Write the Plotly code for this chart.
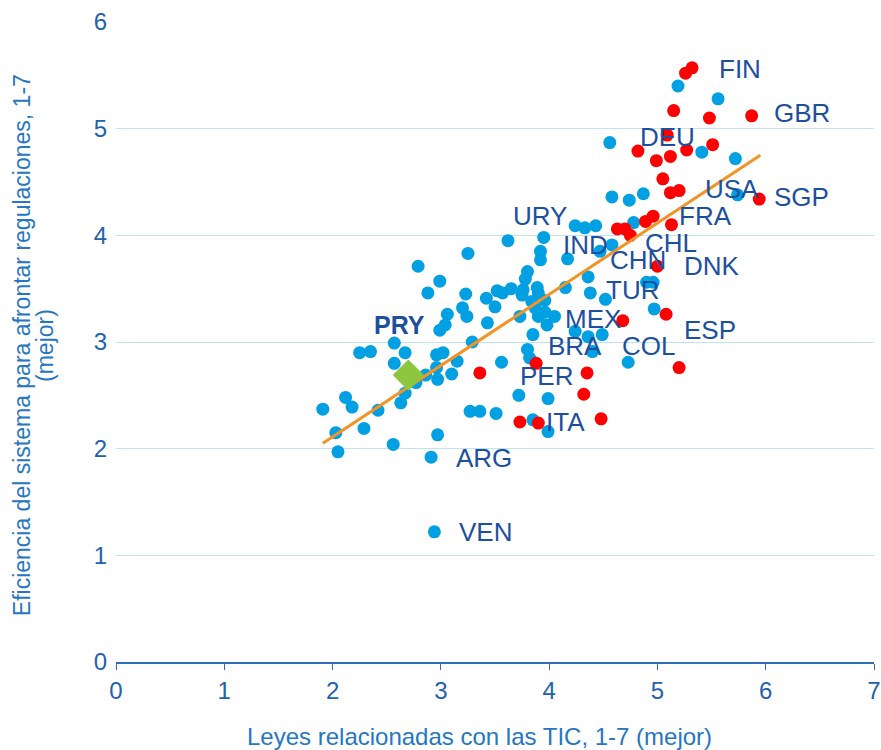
import plotly.graph_objects as go

# other economies (light blue)
blue_x = [2.94, 2.91, 2.05, 2.56, 2.97, 2.03, 2.29, 1.91, 2.18, 2.12,
          2.42, 2.63, 2.67, 2.77, 2.86, 2.97, 3.10, 2.96, 2.57, 3.15,
          2.96, 3.02, 2.67, 2.57, 2.25, 2.35, 3.29, 2.99, 3.04, 3.06,
          3.20, 3.24, 2.88, 2.99, 2.79, 3.25, 3.23, 3.42, 3.50, 3.52,
          3.57, 3.65, 3.76, 3.75, 3.89, 3.90, 3.80, 3.78, 3.92, 3.92,
          3.95, 3.62, 4.17, 4.15, 4.36, 4.38, 4.52, 3.84, 3.87, 3.96,
          3.96, 3.90, 3.98, 4.05, 3.73, 3.43, 3.85, 3.80, 3.82, 4.24,
          4.36, 4.49, 3.56, 4.40, 4.73, 3.72, 3.99, 3.27, 3.36, 3.51,
          3.85, 3.99, 4.24, 4.33, 4.43, 4.47, 4.58, 4.58, 4.74, 4.87,
          4.78, 4.56, 5.19, 5.56, 5.41, 5.72, 5.74, 4.90, 4.96, 4.97]
blue_y = [1.22, 1.92, 1.97, 2.04, 2.13, 2.15, 2.19, 2.37, 2.39, 2.48,
          2.36, 2.43, 2.52, 2.62, 2.69, 2.65, 2.70, 2.76, 2.80, 2.82,
          2.88, 2.90, 2.90, 2.99, 2.90, 2.91, 3.00, 3.11, 3.16, 3.26,
          3.32, 3.24, 3.46, 3.57, 3.71, 3.83, 3.45, 3.41, 3.33, 3.48,
          3.46, 3.50, 3.49, 3.44, 3.51, 3.46, 3.66, 3.59, 3.77, 3.85,
          3.98, 3.95, 3.78, 3.51, 3.61, 3.46, 3.40, 3.38, 3.32, 3.39,
          3.28, 3.24, 3.16, 3.24, 3.24, 3.18, 3.07, 2.93, 2.85, 3.10,
          3.05, 3.07, 2.81, 2.91, 2.81, 2.50, 2.47, 2.35, 2.35, 2.33,
          2.27, 2.16, 4.09, 4.07, 4.09, 3.85, 3.91, 4.36, 4.33, 4.39,
          4.12, 4.87, 5.40, 5.28, 4.78, 4.72, 4.38, 3.56, 3.56, 3.31]

# OECD economies (red)
red_x = [5.32, 5.26, 5.15, 5.48, 5.87, 5.09, 4.82, 5.27, 5.51, 4.99,
         5.12, 5.05, 5.12, 5.20, 5.94, 4.96, 4.89, 5.13, 4.63, 4.70,
         4.75, 5.00, 5.08, 4.68, 5.20, 4.35, 4.32, 4.48, 3.88, 3.36,
         3.73, 3.90]
red_y = [5.57, 5.52, 5.17, 5.10, 5.12, 4.94, 4.79, 4.80, 4.85, 4.70,
         4.74, 4.53, 4.40, 4.42, 4.34, 4.18, 4.13, 4.10, 4.06, 4.06,
         4.00, 3.71, 3.26, 3.20, 2.76, 2.71, 2.51, 2.28, 2.80, 2.71,
         2.25, 2.24]

# Paraguay
pry_x = [2.70]
pry_y = [2.69]

# linear trend
trend_x = [1.91, 5.95]
trend_y = [2.05, 4.75]

labels = ["FIN", "GBR", "DEU", "USA", "SGP", "FRA", "URY", "IND", "CHL", "CHN",
          "DNK", "TUR", "MEX", "ESP", "BRA", "COL", "PER", "ITA", "ARG", "VEN"]
label_x = [5.55, 6.06, 4.82, 5.42, 6.06, 5.18, 3.65, 4.11, 4.87, 4.54,
           5.23, 4.51, 4.13, 5.23, 3.97, 4.65, 3.71, 3.95, 3.12, 3.15]
label_y = [5.56, 5.15, 4.92, 4.43, 4.36, 4.18, 4.18, 3.91, 3.93, 3.77,
           3.71, 3.49, 3.22, 3.11, 2.96, 2.96, 2.68, 2.25, 1.91, 1.22]

TXT = "#1D4F9F"
TICK = "#2460AD"
TITLE = "#2676C2"
FONT = "Liberation Sans, Arial, sans-serif"

fig = go.Figure()

fig.add_trace(go.Scatter(
    x=blue_x, y=blue_y, mode="markers",
    marker=dict(color="#00A0E3", size=13),
    hoverinfo="skip", showlegend=False,
))
fig.add_trace(go.Scatter(
    x=red_x, y=red_y, mode="markers",
    marker=dict(color="#FF0000", size=13),
    hoverinfo="skip", showlegend=False,
))
fig.add_trace(go.Scatter(
    x=trend_x, y=trend_y, mode="lines",
    line=dict(color="#F39325", width=3),
    hoverinfo="skip", showlegend=False,
))
fig.add_trace(go.Scatter(
    x=pry_x, y=pry_y, mode="markers",
    marker=dict(color="#8DC63F", size=24, symbol="diamond"),
    hoverinfo="skip", showlegend=False,
))

for name, lx, ly in zip(labels, label_x, label_y):
    fig.add_annotation(
        x=lx, y=ly, text=name, showarrow=False,
        xanchor="left", yanchor="middle",
        font=dict(family=FONT, size=26, color=TXT),
    )
fig.add_annotation(
    x=2.36, y=3.16, text="<b>PRY</b>", showarrow=False,
    xanchor="left", yanchor="middle",
    font=dict(family=FONT, size=25, color=TXT),
)

# axis titles (placed as annotations so line spacing can match)
fig.add_annotation(
    xref="paper", yref="paper", x=-0.124, y=0.495,
    text="Eficiencia del sistema para afrontar regulaciones, 1-7",
    textangle=-90, showarrow=False, xanchor="center", yanchor="middle",
    font=dict(family=FONT, size=23, color=TITLE),
)
fig.add_annotation(
    xref="paper", yref="paper", x=-0.094, y=0.495,
    text="(mejor)",
    textangle=-90, showarrow=False, xanchor="center", yanchor="middle",
    font=dict(family=FONT, size=23, color=TITLE),
)
fig.add_annotation(
    xref="paper", yref="paper", x=0.479, y=-0.117,
    text="Leyes relacionadas con las TIC, 1-7 (mejor)",
    showarrow=False, xanchor="center", yanchor="middle",
    font=dict(family=FONT, size=24, color=TITLE),
)

fig.update_xaxes(
    range=[0, 7], dtick=1, showgrid=False, zeroline=False,
    showline=True, linecolor="#2F6DB5", linewidth=1.5,
    ticks="outside", ticklen=6, tickcolor="#2F6DB5",
    tickfont=dict(family=FONT, size=24, color=TICK),
    ticklabeloverflow="allow",
    automargin=False,
)
fig.update_yaxes(
    range=[0, 6], dtick=1, showgrid=True, gridcolor="#BEE3F5", gridwidth=1.2,
    zeroline=False, showline=False, ticks="",
    tickfont=dict(family=FONT, size=24, color=TICK),
    ticklabelstandoff=8,
    automargin=False,
)

fig.update_layout(
    width=881, height=750,
    margin=dict(l=116, r=7, t=22, b=88),
    plot_bgcolor="white", paper_bgcolor="white",
    font=dict(family=FONT),
)

# drop the page's default body margin so the figure fills the window exactly
fig.write_html(
    "out.html",
    config={"displayModeBar": False},
    post_script="document.body.style.margin='0';",
)
